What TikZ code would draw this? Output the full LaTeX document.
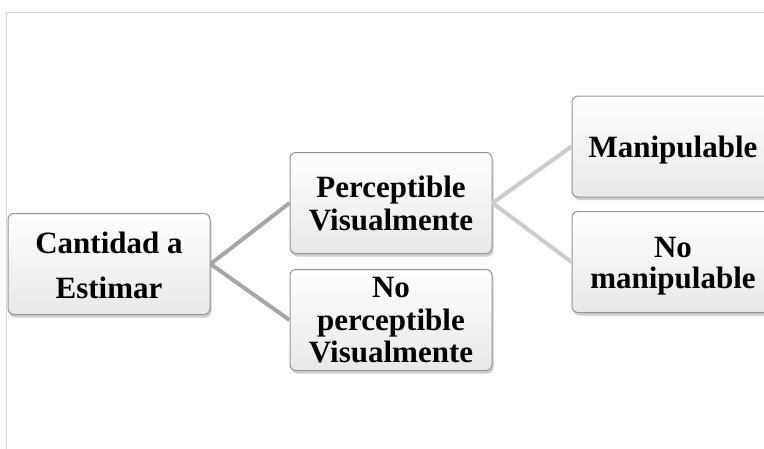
\documentclass[tikz,border=0pt]{standalone}
\usepackage{fontspec}
\setmainfont{Liberation Serif}
\usetikzlibrary{shadows}
\tikzset{
  box/.style={draw=black!42, line width=1pt, rounded corners=6pt,
    top color=white, bottom color=black!9, minimum width=202pt, minimum height=101pt,
    inner sep=0pt, drop shadow={shadow xshift=1.5pt, shadow yshift=-3pt, opacity=0.35, fill=black!55}},
  txt/.style={anchor=base, inner sep=0pt, font=\fontsize{31}{33}\selectfont\bfseries},
  linkA/.style={draw=black!35, line width=4pt},
  linkB/.style={draw=black!20, line width=4pt},
}
\begin{document}
\begin{tikzpicture}[x=1pt,y=-1pt]
\useasboundingbox (0,0) rectangle (764,448);
\clip (0,0) rectangle (764,448);
\draw[black!16, line width=1.6pt] (6.5,12.5) rectangle (800,480);
% boxes
\node[box] (cant) at (109,264) {};
\node[box] (perc) at (391,203) {};
\node[box] (noperc) at (391,320) {};
\node[box] (manip) at (673,146.5) {};
\node[box] (nomanip) at (673,262) {};
% connectors
\draw[linkA] (cant.east) -- (perc.west);
\draw[linkA] (cant.east) -- (noperc.west);
\draw[linkB] (perc.east) -- (manip.west);
\draw[linkB] (perc.east) -- (nomanip.west);
% texts
\node[txt] (t1) at (109,253) {Cantidad a};
\node[txt] (t2) at (109,298) {Estimar};
\node[txt] (t3) at (391,197) {Perceptible};
\node[txt] (t4) at (391,230) {Visualmente};
\node[txt] (t5) at (391,297) {No};
\node[txt] (t6) at (391,330) {perceptible};
\node[txt] (t7) at (391,362) {Visualmente};
\node[txt] (t8) at (673,157) {Manipulable};
\node[txt] (t9) at (673,257) {No};
\node[txt] (t10) at (673,288) {manipulable};
\end{tikzpicture}
\end{document}
